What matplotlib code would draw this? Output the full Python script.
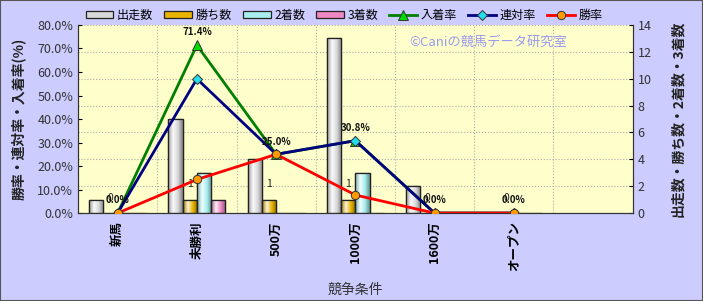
import numpy as np
import matplotlib
matplotlib.use("Agg")
import matplotlib.pyplot as plt
from matplotlib.ticker import FuncFormatter
from matplotlib.colors import LinearSegmentedColormap, to_rgb

plt.rcParams["font.family"] = ["Noto Sans CJK JP", "DejaVu Sans"]

categories = ["新馬", "未勝利", "500万", "1000万", "1600万", "オープン"]
runs = [1, 7, 4, 13, 2, 0]
wins = [0, 1, 1, 1, 0, 0]
seconds = [0, 3, 0, 3, 0, 0]
thirds = [0, 1, 0, 0, 0, 0]
place_rate = [0.0, 71.4, 25.0, 30.8, 0.0, 0.0]
quinella_rate = [0.0, 57.1, 25.0, 30.8, 0.0, 0.0]
win_rate = [0.0, 14.3, 25.0, 7.7, 0.0, 0.0]

BG = "#CCCCFF"
PLOT_BG = "#FFFFCC"


def shade(col, k):
    r, g, b = to_rgb(col)
    if k < 1:
        return (r * k, g * k, b * k)
    t = k - 1
    return (r + (1 - r) * t, g + (1 - g) * t, b + (1 - b) * t)


def cylinder(ax, rects, col):
    """棒に円柱風のグラデーションを付ける"""
    cmap = LinearSegmentedColormap.from_list(
        "c", [shade(col, 0.7), shade(col, 1.85), shade(col, 1.0), shade(col, 0.6)])
    grad = np.linspace(0, 1, 64).reshape(1, -1)
    for r in rects:
        if r.get_height() <= 0:
            continue
        x0, y0 = r.get_x(), r.get_y()
        im = ax.imshow(grad, extent=[x0, x0 + r.get_width(), y0, y0 + r.get_height()],
                       aspect="auto", cmap=cmap, zorder=2, interpolation="bilinear")
        im.set_clip_path(r)


fig = plt.figure(figsize=(7.03, 3.01), dpi=100, facecolor=BG)
fig.patches.append(plt.Rectangle((0, 0), 1, 1, transform=fig.transFigure,
                                 fill=False, edgecolor="#555555", lw=1.5))
ax = fig.add_axes([0.111, 0.292, 0.789, 0.625])
ax.set_facecolor(PLOT_BG)
ax2 = ax.twinx()

x = np.arange(len(categories))
w = 0.18
bar_specs = [
    ("出走数", runs, "#D8D8D8", -1.5),
    ("勝ち数", wins, "#E8B400", -0.5),
    ("2着数", seconds, "#A8EEEE", 0.5),
    ("3着数", thirds, "#EE88C4", 1.5),
]
handles = []
for name, vals, col, off in bar_specs:
    b = ax.bar(x + off * w, vals, w, color=col, edgecolor="#222222", lw=0.9,
               label=name, zorder=2)
    cylinder(ax, b.patches, col)
    for r in b.patches:
        if r.get_height() > 0:
            ax.add_patch(plt.Rectangle((r.get_x(), 0), r.get_width(), r.get_height(),
                                       fill=False, edgecolor="#222222", lw=0.9, zorder=3))
    handles.append(b)
for i, v in enumerate(wins):
    ax.annotate(str(v), (x[i] - 0.5 * w, v), textcoords="offset points",
                xytext=(0, 9), ha="center", fontsize=7.5, color="#222222", zorder=5)

ax.set_xlim(-0.5, 6.5)
ax.set_ylim(0, 14)
ax.set_yticks(range(0, 15, 2))
ax.yaxis.tick_right()
ax.yaxis.set_label_position("right")
ax.set_ylabel("出走数・勝ち数・2着数・3着数", fontsize=10, fontweight="bold",
              rotation=90, labelpad=14, color="#222222")
ax.set_xticks(x)
ax.set_xticklabels(categories, rotation=90, fontsize=9, fontweight="bold")
ax.set_xticks(np.arange(0.5, 6.5, 1), minor=True)
ax.tick_params(axis="x", which="both", length=0, pad=6)
ax.tick_params(axis="y", labelsize=9, labelcolor="#333333", length=3, direction="in")
ax.grid(axis="x", which="minor", color="#AAAAAA", ls=":", lw=0.8)
ax.grid(axis="y", color="#AAAAAA", ls=":", lw=0.8)
ax.set_axisbelow(True)
ax.set_xlabel("競争条件", fontsize=10, color="#333333", labelpad=8)
ax.text(0.74, 0.91, "©Caniの競馬データ研究室", transform=ax.transAxes,
        ha="center", va="center", fontsize=9.5, color="#9999EE", zorder=1)

ax2.set_ylim(0, 80)
ax2.yaxis.tick_left()
ax2.yaxis.set_label_position("left")
ax2.set_yticks(range(0, 81, 10))
ax2.yaxis.set_major_formatter(FuncFormatter(lambda v, p: f"{v:.1f}%"))
ax2.tick_params(axis="y", labelsize=9, labelcolor="#333333", length=3, direction="in")
ax2.set_ylabel("勝率・連対率・入着率(%)", fontsize=10, fontweight="bold",
               labelpad=8, color="#222222")
line_specs = [
    ("入着率", place_rate, "#008000", "^", "#00DD00", 7),
    ("連対率", quinella_rate, "#000080", "D", "#22DDEE", 5),
    ("勝率", win_rate, "#FF0000", "o", "#FF9900", 6),
]
for name, vals, col, mk, mfc, ms in line_specs:
    l, = ax2.plot(x, vals, color=col, lw=2, marker=mk, ms=ms, mfc=mfc,
                  mec="#333333", mew=0.7, label=name, zorder=3)
    handles.append(l)
for i, v in enumerate(place_rate):
    ax2.annotate(f"{v:.1f}%", (x[i], v), textcoords="offset points",
                 xytext=(0, 7), ha="center", fontsize=7, fontweight="bold",
                 color="#111111")
for a in (ax, ax2):
    for s in a.spines.values():
        s.set_color("#333333")
    a.spines["top"].set_visible(False)

fig.legend(handles=handles, labels=[h.get_label() for h in handles], ncol=7,
           loc="center left", bbox_to_anchor=(0.115, 0.948), frameon=False,
           fontsize=8.7, handlelength=2.3, handletextpad=0.3, columnspacing=0.9,
           borderaxespad=0, handleheight=0.5)
fig.savefig("out.png", dpi=100, facecolor=BG)
